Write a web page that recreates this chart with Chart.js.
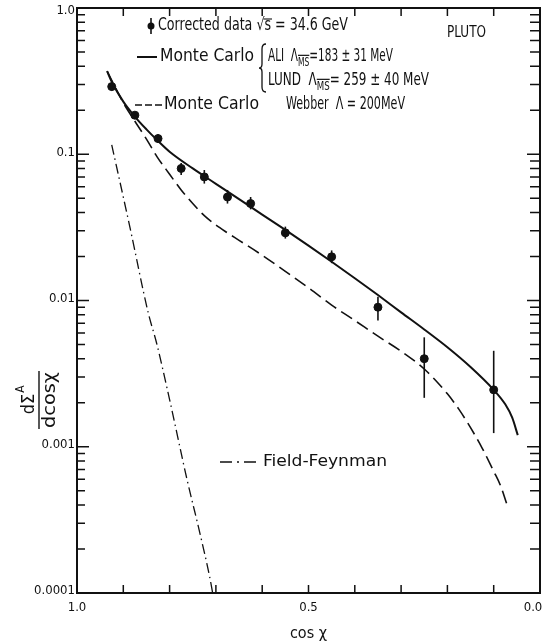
<!DOCTYPE html>
<html>
<head>
<meta charset="utf-8">
<script src="https://cdn.jsdelivr.net/npm/chart.js@4.4.1/dist/chart.umd.min.js"></script>
<style>
html, body { margin: 0; padding: 0; background: #fff; }
</style>
</head>
<body>
<canvas id="plot" width="545" height="644"></canvas>
<script>
// corrected PLUTO data, sqrt(s) = 34.6 GeV
const cosChi = [0.925, 0.875, 0.825, 0.775, 0.725, 0.675, 0.625, 0.55, 0.45, 0.35, 0.25, 0.10];
const corrected = [0.29, 0.185, 0.128, 0.080, 0.070, 0.051, 0.046, 0.029, 0.0199, 0.0090, 0.0040, 0.00245];
const errLow = [0.272, 0.176, 0.120, 0.072, 0.063, 0.046, 0.042, 0.0265, 0.0180, 0.0073, 0.00216, 0.00124];
const errHigh = [0.310, 0.195, 0.137, 0.087, 0.078, 0.057, 0.051, 0.0320, 0.0220, 0.0106, 0.0056, 0.00453];

// Monte Carlo ALI / LUND (solid)
const mcX = [0.935, 0.925, 0.90, 0.877, 0.85, 0.827, 0.80, 0.75, 0.70, 0.65, 0.60, 0.55, 0.50, 0.45,
             0.40, 0.35, 0.30, 0.25, 0.20, 0.15, 0.10, 0.075, 0.06, 0.048];
const mcAli = [0.37, 0.313, 0.229, 0.184, 0.148, 0.125, 0.104, 0.080, 0.0628, 0.0493, 0.0387, 0.0304, 0.0237, 0.0184,
               0.0142, 0.0109, 0.0083, 0.00634, 0.00479, 0.00351, 0.00245, 0.00195, 0.00158, 0.0012];

// Monte Carlo Webber (dashed)
const webX = [0.935, 0.90, 0.877, 0.85, 0.827, 0.80, 0.775, 0.75, 0.725, 0.70, 0.675, 0.65, 0.60, 0.55, 0.50,
              0.45, 0.40, 0.35, 0.30, 0.25, 0.20, 0.175, 0.15, 0.125, 0.10, 0.085, 0.071];
const webber = [0.37, 0.225, 0.172, 0.127, 0.096, 0.073, 0.057, 0.046, 0.038, 0.0328, 0.029, 0.0258, 0.0204, 0.0158, 0.0122,
                0.0093, 0.0073, 0.0057, 0.0045, 0.0034, 0.0023, 0.0018, 0.00135, 0.00098, 0.00068, 0.00054, 0.0004];

// Field-Feynman (dash-dot)
const ffX = [0.925, 0.886, 0.846, 0.828, 0.80, 0.762, 0.735, 0.713, 0.707];
const fieldFeynman = [0.116, 0.032, 0.0082, 0.0051, 0.0021, 0.00059, 0.00026, 0.000127, 0.0001];

const xTicks = [1.0, 0.5, 0.0];
const yTicks = [1, 0.1, 0.01, 0.001, 0.0001];
const yTickText = ['1.0', '0.1', '0.01', '0.001', '0.0001'];

const FONT = "'DejaVu Sans Condensed', 'Liberation Sans Narrow', 'Liberation Sans', sans-serif";

function pts(xs, ys) {
    return xs.map((x, i) => ({ x: x, y: ys[i] }));
}

// text squeezed/stretched to a given width, returns horizontal scale
function fitText(ctx, text, x, y, width, size) {
    ctx.save();
    ctx.font = size + 'px ' + FONT;
    const w = ctx.measureText(text).width;
    ctx.translate(x, y);
    ctx.scale(width / w, 1);
    ctx.textAlign = 'left';
    ctx.textBaseline = 'middle';
    ctx.fillText(text, 0, 0);
    ctx.restore();
    return width / w;
}

// pieces: [text, isSub]; subscripts get an overline (MS-bar)
function richText(ctx, parts, x, y, width, size) {
    ctx.save();
    const subSize = size * 0.72;
    let total = 0;
    parts.forEach(p => {
        ctx.font = (p[1] ? subSize : size) + 'px ' + FONT;
        total += ctx.measureText(p[0]).width;
    });
    ctx.translate(x, y);
    ctx.scale(width / total, 1);
    ctx.textAlign = 'left';
    ctx.textBaseline = 'middle';
    let cx = 0;
    parts.forEach(p => {
        ctx.font = (p[1] ? subSize : size) + 'px ' + FONT;
        const w = ctx.measureText(p[0]).width;
        if (p[1]) {
            ctx.fillText(p[0], cx, size * 0.32);
            ctx.lineWidth = 1.2;
            ctx.beginPath();
            ctx.moveTo(cx, size * 0.32 - subSize * 0.58);
            ctx.lineTo(cx + w, size * 0.32 - subSize * 0.58);
            ctx.stroke();
        } else {
            ctx.fillText(p[0], cx, 0);
        }
        cx += w;
    });
    ctx.restore();
}

const errorBars = {
    id: 'errorBars',
    afterDatasetsDraw(chart) {
        const ctx = chart.ctx, xs = chart.scales.x, ys = chart.scales.y;
        ctx.save();
        ctx.strokeStyle = '#111';
        ctx.lineWidth = 1.6;
        cosChi.forEach((c, i) => {
            const px = xs.getPixelForValue(c);
            ctx.beginPath();
            ctx.moveTo(px, ys.getPixelForValue(errLow[i]));
            ctx.lineTo(px, ys.getPixelForValue(errHigh[i]));
            ctx.stroke();
        });
        ctx.restore();
    }
};

const frame = {
    id: 'frame',
    afterDraw(chart) {
        const ctx = chart.ctx, a = chart.chartArea, xs = chart.scales.x, ys = chart.scales.y;
        ctx.save();
        ctx.strokeStyle = '#111';
        ctx.fillStyle = '#111';
        ctx.lineWidth = 2;
        ctx.strokeRect(a.left, a.top, a.right - a.left, a.bottom - a.top);

        // inward ticks
        ctx.lineWidth = 1.5;
        ctx.beginPath();
        for (let k = 1; k <= 9; k++) {
            const px = xs.getPixelForValue(k / 10);
            ctx.moveTo(px, a.bottom); ctx.lineTo(px, a.bottom - 8);
            ctx.moveTo(px, a.top); ctx.lineTo(px, a.top + 8);
        }
        for (let d = -4; d <= 0; d++) {
            for (let m = 1; m <= 9; m++) {
                const v = m * Math.pow(10, d);
                if (v > 1.0001) break;
                const py = ys.getPixelForValue(v);
                const major = m === 1;
                ctx.moveTo(a.left, py); ctx.lineTo(a.left + (major ? 12 : 8), py);
                ctx.moveTo(a.right, py); ctx.lineTo(a.right - (major ? 13 : 10), py);
            }
        }
        ctx.stroke();

        // tick labels
        ctx.font = '13px ' + FONT;
        ctx.textBaseline = 'middle';
        ctx.textAlign = 'right';
        yTicks.forEach((v, i) => {
            ctx.fillText(yTickText[i], a.left - 2, ys.getPixelForValue(v) + (i === 0 ? 3 : -2));
        });
        ctx.textAlign = 'center';
        xTicks.forEach(v => {
            let px = xs.getPixelForValue(v);
            if (v === 0) px -= 7;
            ctx.fillText(v.toFixed(1), px, a.bottom + 15);
        });

        // axis titles
        ctx.font = '16px ' + FONT;
        ctx.fillText('cos χ', (a.left + a.right) / 2, 634);

        ctx.save();
        ctx.translate(39, 400);
        ctx.rotate(-Math.PI / 2);
        ctx.textAlign = 'center';
        ctx.font = '18px ' + FONT;
        ctx.fillText('dΣ', -4, -10);
        ctx.font = '12px ' + FONT;
        ctx.fillText('A', 11, -18);
        ctx.save();
        ctx.font = '18px ' + FONT;
        const dw = ctx.measureText('dcosχ').width;
        ctx.scale(56 / dw, 1);
        ctx.fillText('dcosχ', 0, 11);
        ctx.restore();
        ctx.lineWidth = 1.4;
        ctx.beginPath();
        ctx.moveTo(-29, 0); ctx.lineTo(29, 0);
        ctx.stroke();
        ctx.restore();

        // key and labels
        ctx.lineWidth = 1.6;
        ctx.beginPath();
        ctx.moveTo(151, 18); ctx.lineTo(151, 34);
        ctx.stroke();
        ctx.beginPath();
        ctx.arc(151, 26, 3.5, 0, Math.PI * 2);
        ctx.fill();
        const lead = 'Corrected data √';
        const sc = fitText(ctx, lead + 's = 34.6 GeV', 158, 26, 190, 17);
        ctx.font = '17px ' + FONT;
        const s0 = 158 + ctx.measureText(lead).width * sc;
        const s1 = s0 + ctx.measureText('s').width * sc;
        ctx.lineWidth = 1.1;
        ctx.beginPath();
        ctx.moveTo(s0 - 1, 19); ctx.lineTo(s1 + 1, 19);
        ctx.stroke();

        fitText(ctx, 'PLUTO', 447, 33, 39, 16);

        ctx.lineWidth = 2;
        ctx.beginPath();
        ctx.moveTo(137, 57); ctx.lineTo(157, 57);
        ctx.stroke();
        fitText(ctx, 'Monte Carlo', 160, 57, 94, 17);

        // brace
        ctx.lineWidth = 1.3;
        ctx.beginPath();
        ctx.moveTo(266, 44);
        ctx.quadraticCurveTo(262, 44, 262, 49);
        ctx.lineTo(262, 64);
        ctx.quadraticCurveTo(262, 68, 259, 68);
        ctx.quadraticCurveTo(262, 68, 262, 72);
        ctx.lineTo(262, 87);
        ctx.quadraticCurveTo(262, 92, 266, 92);
        ctx.stroke();

        richText(ctx, [['ALI  Λ', false], ['MS', true], ['=183 ± 31 MeV', false]], 268, 57, 125, 17);
        richText(ctx, [['LUND  Λ', false], ['MS', true], ['= 259 ± 40 MeV', false]], 268, 81, 161, 17);

        ctx.lineWidth = 1.6;
        ctx.beginPath();
        ctx.setLineDash([7, 3]);
        ctx.moveTo(135, 105); ctx.lineTo(162, 105);
        ctx.stroke();
        ctx.setLineDash([]);
        fitText(ctx, 'Monte Carlo', 164, 105, 95, 17);
        fitText(ctx, 'Webber  Λ = 200MeV', 286, 105, 119, 17);

        ctx.lineWidth = 1.4;
        ctx.beginPath();
        ctx.setLineDash([12, 5, 2, 5]);
        ctx.moveTo(220, 462); ctx.lineTo(258, 462);
        ctx.stroke();
        ctx.setLineDash([]);
        fitText(ctx, 'Field-Feynman', 263, 462, 124, 16);

        ctx.restore();
    }
};

const ctx = document.getElementById('plot').getContext('2d');
new Chart(ctx, {
    type: 'scatter',
    data: {
        datasets: [
            {
                label: 'Corrected data',
                data: pts(cosChi, corrected),
                pointRadius: 4,
                pointBackgroundColor: '#111',
                pointBorderColor: '#111',
                showLine: false
            },
            {
                label: 'Monte Carlo ALI / LUND',
                data: pts(mcX, mcAli),
                showLine: true,
                pointRadius: 0,
                borderColor: '#111',
                borderWidth: 2,
                cubicInterpolationMode: 'monotone'
            },
            {
                label: 'Monte Carlo Webber',
                data: pts(webX, webber),
                showLine: true,
                pointRadius: 0,
                borderColor: '#111',
                borderWidth: 1.6,
                borderDash: [13, 6],
                cubicInterpolationMode: 'monotone'
            },
            {
                label: 'Field-Feynman',
                data: pts(ffX, fieldFeynman),
                showLine: true,
                pointRadius: 0,
                borderColor: '#111',
                borderWidth: 1.3,
                borderDash: [10, 4, 1.5, 4],
                cubicInterpolationMode: 'monotone'
            }
        ]
    },
    options: {
        responsive: false,
        animation: false,
        devicePixelRatio: 1,
        layout: { padding: { left: 77, right: 5, top: 8, bottom: 51 } },
        plugins: { legend: { display: false }, tooltip: { enabled: false } },
        scales: {
            x: { type: 'linear', reverse: true, min: 0, max: 1, display: false },
            y: { type: 'logarithmic', min: 0.0001, max: 1, display: false }
        }
    },
    plugins: [errorBars, frame]
});
</script>
</body>
</html>
